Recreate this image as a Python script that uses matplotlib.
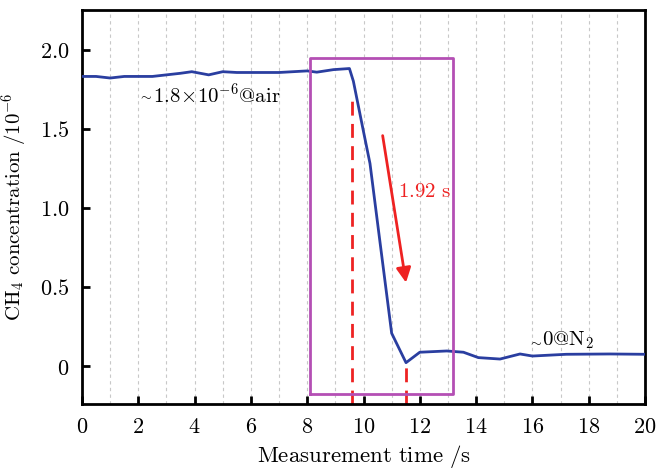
import matplotlib
matplotlib.use("Agg")
import matplotlib.pyplot as plt

plt.rcParams['mathtext.fontset'] = 'cm'
plt.rcParams['font.family'] = ['DejaVu Serif']

# CH4 concentration curve
time_s = [0, 0.5, 1.0, 1.5, 2.0, 2.5, 3.0, 3.5, 3.9, 4.5, 5.0, 5.5, 6.0, 6.5, 7.0, 7.5, 8.0,
          8.34, 8.93, 9.5, 9.64, 9.99, 10.23, 10.59, 11.0, 11.51, 12.0, 12.96, 13.55,
          14.08, 14.85, 15.56, 16.0, 17.2, 18.76, 20.0]
conc = [1.83, 1.83, 1.82, 1.83, 1.83, 1.83, 1.84, 1.85, 1.86, 1.84, 1.86, 1.855, 1.855, 1.855,
        1.855, 1.86, 1.865, 1.857, 1.873, 1.88, 1.80, 1.49, 1.28, 0.777, 0.207, 0.021,
        0.087, 0.095, 0.087, 0.053, 0.044, 0.076, 0.063, 0.074, 0.076, 0.074]

x_ticks = [0, 2, 4, 6, 8, 10, 12, 14, 16, 18, 20]
y_ticks = [0, 0.5, 1.0, 1.5, 2.0]
y_tick_labels = ['0', '0.5', '1.0', '1.5', '2.0']

t_start, t_end = 9.6, 11.51
box_t = (8.1, 13.19)
box_c = (-0.18, 1.947)

fig = plt.figure(figsize=(6.7, 4.71), dpi=100)
ax = fig.add_axes([0.1224, 0.1423, 0.8403, 0.8365])

for t in range(1, 20):
    ax.axvline(t, color='#c8c8c8', lw=0.8, ls=(0, (3, 3)), zorder=0)

ax.plot(time_s, conc, color='#2a3ea0', lw=2, zorder=3)

ax.plot([box_t[0], box_t[1], box_t[1], box_t[0], box_t[0]],
        [box_c[0], box_c[0], box_c[1], box_c[1], box_c[0]],
        color='#b44fb4', lw=2, zorder=4)

ax.plot([t_start, t_start], [-0.24, 1.70], color='#ee2222', lw=2, ls=(0, (5, 3)), zorder=2)
ax.plot([t_end, t_end], [-0.24, 0.021], color='#ee2222', lw=2, ls=(0, (5, 3)), zorder=2)

ax.annotate('', xy=(11.51, 0.527), xytext=(10.68, 1.456),
            arrowprops=dict(arrowstyle='-|>', color='#ee2222', lw=2,
                            mutation_scale=22, shrinkA=0, shrinkB=0), zorder=5)
ax.text(11.23, 1.10, r'$\mathrm{1.92\ s}$', color='#ee2222', fontsize=15,
        ha='left', va='center')

# small tilde then the label text
ax.text(2.0, 1.715, r'$\sim$', fontsize=10, ha='left', va='center')
ax.annotate(r'$\mathrm{1.8\!\times\!10^{-6}@air}$', xy=(2.0, 1.715), xytext=(10.5, 0),
            textcoords='offset points', fontsize=15, ha='left', va='center')
ax.text(15.85, 0.16, r'$\sim$', fontsize=10, ha='left', va='center')
ax.annotate(r'$\mathrm{0@N_2}$', xy=(15.85, 0.16), xytext=(10, 0),
            textcoords='offset points', fontsize=15, ha='left', va='center')

ax.set_xlim(0, 20)
ax.set_ylim(-0.24, 2.25)
ax.set_xticks(x_ticks)
ax.set_xticklabels([r'$\mathrm{%d}$' % v for v in x_ticks])
ax.set_yticks(y_ticks)
ax.set_yticklabels([r'$\mathrm{%s}$' % s for s in y_tick_labels])
ax.tick_params(direction='in', length=6, width=2, labelsize=16, pad=9)

for s in ax.spines.values():
    s.set_linewidth(2)

ax.set_xlabel(r'$\mathrm{Measurement\ time\ /s}$', fontsize=16.5, labelpad=3)
ax.set_ylabel(r'$\mathrm{CH_4\ concentration\ /10^{-6}}$', fontsize=15, labelpad=8)

fig.savefig('out.png', dpi=100)
